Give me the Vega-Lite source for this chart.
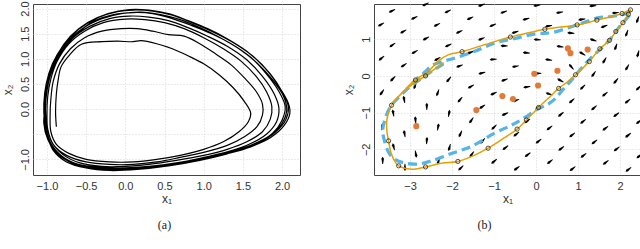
{
  "$schema": "https://vega.github.io/schema/vega-lite/v6.json",
  "padding": {"left": 0, "top": 0, "right": 0, "bottom": 0},
  "bounds": "flush",
  "spacing": 74,
  "config": {
    "font": "Liberation Sans",
    "view": {"stroke": "#444444", "strokeWidth": 1},
    "axis": {"grid": true, "gridColor": "#cccccc", "gridDash": [1, 2], "gridWidth": 0.8, "domain": false, "ticks": false,
      "labelFont": "Liberation Sans", "labelFontSize": 11, "labelColor": "#333333", "labelPadding": 5,
      "titleFont": "Liberation Sans", "titleFontSize": 12, "titleFontWeight": "normal", "titleColor": "#333333", "titlePadding": 2},
    "title": {"font": "Liberation Serif", "fontSize": 12, "fontWeight": "normal", "color": "#222222", "orient": "bottom", "anchor": "middle", "offset": 16}
  },
  "datasets": {
    "traj": [
      {"x1":-0.88,"x2":-0.35},{"x1":-0.89,"x2":-0.05},{"x1":-0.88,"x2":0.3},{"x1":-0.86,"x2":0.55},{"x1":-0.82,"x2":0.84},{"x1":-0.71,"x2":1.08},{"x1":-0.56,"x2":1.29},{"x1":-0.3,"x2":1.34},{"x1":-0.1,"x2":1.35},{"x1":0.1,"x2":1.34},{"x1":0.2,"x2":1.36},{"x1":0.4,"x2":1.3},{"x1":0.6,"x2":1.2},{"x1":0.8,"x2":1.06},{"x1":1.0,"x2":0.9},{"x1":1.2,"x2":0.68},{"x1":1.38,"x2":0.42},{"x1":1.52,"x2":0.15},{"x1":1.6,"x2":-0.08},{"x1":1.57,"x2":-0.25},{"x1":1.45,"x2":-0.45},{"x1":1.25,"x2":-0.65},{"x1":1.0,"x2":-0.8},{"x1":0.7,"x2":-0.92},{"x1":0.4,"x2":-1.0},{"x1":0.1,"x2":-1.05},{"x1":-0.2,"x2":-1.05},{"x1":-0.5,"x2":-1.0},{"x1":-0.72,"x2":-0.88},{"x1":-0.88,"x2":-0.7},{"x1":-0.95,"x2":-0.45},
      {"x1":-0.96,"x2":-0.15},{"x1":-0.95,"x2":0.2},{"x1":-0.92,"x2":0.55},{"x1":-0.84,"x2":0.9},{"x1":-0.7,"x2":1.2},{"x1":-0.52,"x2":1.42},{"x1":-0.3,"x2":1.55},{"x1":-0.05,"x2":1.6},{"x1":0.15,"x2":1.6},{"x1":0.35,"x2":1.55},{"x1":0.55,"x2":1.48},{"x1":0.75,"x2":1.45},{"x1":0.95,"x2":1.3},{"x1":1.15,"x2":1.1},{"x1":1.35,"x2":0.88},{"x1":1.52,"x2":0.62},{"x1":1.67,"x2":0.35},{"x1":1.75,"x2":0.1},{"x1":1.75,"x2":-0.12},{"x1":1.68,"x2":-0.35},{"x1":1.52,"x2":-0.55},{"x1":1.3,"x2":-0.72},{"x1":1.0,"x2":-0.86},{"x1":0.7,"x2":-0.96},{"x1":0.4,"x2":-1.05},{"x1":0.1,"x2":-1.1},{"x1":-0.2,"x2":-1.1},{"x1":-0.5,"x2":-1.05},{"x1":-0.75,"x2":-0.92},{"x1":-0.92,"x2":-0.7},{"x1":-0.99,"x2":-0.4},
      {"x1":-1.0,"x2":-0.1},{"x1":-0.99,"x2":0.25},{"x1":-0.95,"x2":0.6},{"x1":-0.87,"x2":0.95},{"x1":-0.72,"x2":1.3},{"x1":-0.52,"x2":1.55},{"x1":-0.28,"x2":1.72},{"x1":0.0,"x2":1.79},{"x1":0.25,"x2":1.78},{"x1":0.5,"x2":1.72},{"x1":0.75,"x2":1.6},{"x1":1.0,"x2":1.42},{"x1":1.25,"x2":1.2},{"x1":1.48,"x2":0.95},{"x1":1.67,"x2":0.65},{"x1":1.8,"x2":0.35},{"x1":1.87,"x2":0.05},{"x1":1.85,"x2":-0.2},{"x1":1.75,"x2":-0.45},{"x1":1.55,"x2":-0.65},{"x1":1.3,"x2":-0.8},{"x1":1.0,"x2":-0.92},{"x1":0.65,"x2":-1.02},{"x1":0.3,"x2":-1.1},{"x1":0.0,"x2":-1.14},{"x1":-0.3,"x2":-1.14},{"x1":-0.58,"x2":-1.07},{"x1":-0.8,"x2":-0.9},{"x1":-0.94,"x2":-0.65},{"x1":-1.0,"x2":-0.35},
      {"x1":-1.02,"x2":0.0},{"x1":-1.0,"x2":0.35},{"x1":-0.95,"x2":0.7},{"x1":-0.85,"x2":1.05},{"x1":-0.68,"x2":1.4},{"x1":-0.45,"x2":1.65},{"x1":-0.2,"x2":1.8},{"x1":0.05,"x2":1.85},{"x1":0.3,"x2":1.83},{"x1":0.55,"x2":1.76},{"x1":0.8,"x2":1.62},{"x1":1.05,"x2":1.45},{"x1":1.3,"x2":1.25},{"x1":1.55,"x2":0.98},{"x1":1.75,"x2":0.65},{"x1":1.9,"x2":0.3},{"x1":1.96,"x2":0.02},{"x1":1.93,"x2":-0.25},{"x1":1.8,"x2":-0.5},{"x1":1.58,"x2":-0.7},{"x1":1.3,"x2":-0.85},{"x1":1.0,"x2":-0.96},{"x1":0.65,"x2":-1.07},{"x1":0.3,"x2":-1.14},{"x1":0.0,"x2":-1.17},{"x1":-0.3,"x2":-1.16},{"x1":-0.6,"x2":-1.1},{"x1":-0.82,"x2":-0.92},{"x1":-0.96,"x2":-0.65},{"x1":-1.02,"x2":-0.3},
      {"x1":-1.03,"x2":0.05},{"x1":-1.0,"x2":0.45},{"x1":-0.93,"x2":0.85},{"x1":-0.8,"x2":1.2},{"x1":-0.62,"x2":1.5},{"x1":-0.4,"x2":1.75},{"x1":-0.15,"x2":1.88},{"x1":0.1,"x2":1.92},{"x1":0.35,"x2":1.9},{"x1":0.6,"x2":1.8},{"x1":0.85,"x2":1.66},{"x1":1.1,"x2":1.5},{"x1":1.35,"x2":1.3},{"x1":1.6,"x2":1.03},{"x1":1.8,"x2":0.7},{"x1":1.96,"x2":0.35},{"x1":2.04,"x2":0.05},{"x1":2.0,"x2":-0.22},{"x1":1.88,"x2":-0.48},{"x1":1.65,"x2":-0.7},{"x1":1.35,"x2":-0.86},{"x1":1.0,"x2":-0.98},{"x1":0.6,"x2":-1.1},{"x1":0.2,"x2":-1.17},{"x1":-0.15,"x2":-1.19},{"x1":-0.45,"x2":-1.15},{"x1":-0.7,"x2":-1.05},{"x1":-0.88,"x2":-0.85},{"x1":-0.99,"x2":-0.55},{"x1":-1.03,"x2":-0.25},
      {"x1":-1.04,"x2":0.1},{"x1":-1.01,"x2":0.5},{"x1":-0.93,"x2":0.9},{"x1":-0.8,"x2":1.25},{"x1":-0.6,"x2":1.58},{"x1":-0.35,"x2":1.82},{"x1":-0.1,"x2":1.94},{"x1":0.1,"x2":1.97},{"x1":0.35,"x2":1.95},{"x1":0.6,"x2":1.87},{"x1":0.85,"x2":1.72},{"x1":1.1,"x2":1.55},{"x1":1.38,"x2":1.32},{"x1":1.63,"x2":1.05},{"x1":1.85,"x2":0.7},{"x1":2.0,"x2":0.35},{"x1":2.08,"x2":0.05},{"x1":2.05,"x2":-0.2},{"x1":1.92,"x2":-0.45},{"x1":1.7,"x2":-0.67},{"x1":1.4,"x2":-0.84},{"x1":1.05,"x2":-0.97},{"x1":0.65,"x2":-1.1},{"x1":0.25,"x2":-1.17},{"x1":-0.1,"x2":-1.2},{"x1":-0.4,"x2":-1.18},{"x1":-0.67,"x2":-1.08},{"x1":-0.87,"x2":-0.88},{"x1":-0.99,"x2":-0.6},{"x1":-1.04,"x2":-0.28},
      {"x1":-1.02,"x2":0.08},{"x1":-0.99,"x2":0.5},{"x1":-0.9,"x2":0.92},{"x1":-0.76,"x2":1.3},{"x1":-0.55,"x2":1.6},{"x1":-0.3,"x2":1.8},{"x1":-0.05,"x2":1.9},{"x1":0.2,"x2":1.93},{"x1":0.45,"x2":1.88},{"x1":0.7,"x2":1.78},{"x1":0.95,"x2":1.62},{"x1":1.2,"x2":1.43},{"x1":1.45,"x2":1.2},{"x1":1.68,"x2":0.92},{"x1":1.88,"x2":0.58},{"x1":2.02,"x2":0.25},{"x1":2.06,"x2":-0.02},{"x1":2.0,"x2":-0.28},{"x1":1.85,"x2":-0.52},{"x1":1.6,"x2":-0.72},{"x1":1.3,"x2":-0.87},{"x1":0.95,"x2":-1.0},{"x1":0.55,"x2":-1.12},{"x1":0.15,"x2":-1.18},{"x1":-0.2,"x2":-1.2},{"x1":-0.5,"x2":-1.15},{"x1":-0.74,"x2":-1.02},{"x1":-0.91,"x2":-0.8},{"x1":-1.0,"x2":-0.5},{"x1":-1.03,"x2":-0.15},
      {"x1":-1.01,"x2":0.25},{"x1":-0.96,"x2":0.7},{"x1":-0.86,"x2":1.1},{"x1":-0.7,"x2":1.45},{"x1":-0.48,"x2":1.72},{"x1":-0.22,"x2":1.9},{"x1":0.05,"x2":1.98},{"x1":0.3,"x2":1.97},{"x1":0.55,"x2":1.9},{"x1":0.8,"x2":1.76},{"x1":1.05,"x2":1.6},{"x1":1.3,"x2":1.4},{"x1":1.55,"x2":1.15},{"x1":1.78,"x2":0.82},{"x1":1.96,"x2":0.45},{"x1":2.08,"x2":0.12},{"x1":2.1,"x2":-0.08},{"x1":2.03,"x2":-0.32},{"x1":1.85,"x2":-0.57},{"x1":1.6,"x2":-0.75},{"x1":1.3,"x2":-0.89},{"x1":0.95,"x2":-1.02},{"x1":0.55,"x2":-1.13},{"x1":0.15,"x2":-1.2},{"x1":-0.2,"x2":-1.22},{"x1":-0.5,"x2":-1.17},{"x1":-0.75,"x2":-1.05},{"x1":-0.92,"x2":-0.82},{"x1":-1.0,"x2":-0.5}
    ],
    "field": [
      {"x1":1.35,"x2":1.91,"dir":265},{"x1":1.89,"x2":1.72,"dir":265},{"x1":2.42,"x2":1.53,"dir":200},
      {"x1":0.02,"x2":1.92,"dir":262},{"x1":0.56,"x2":1.73,"dir":262},{"x1":1.09,"x2":1.54,"dir":262},{"x1":1.62,"x2":1.35,"dir":250},{"x1":2.16,"x2":1.16,"dir":200},
      {"x1":-1.3,"x2":1.93,"dir":250},{"x1":-0.77,"x2":1.74,"dir":250},{"x1":-0.24,"x2":1.55,"dir":255},{"x1":0.3,"x2":1.36,"dir":260},{"x1":0.83,"x2":1.17,"dir":275},{"x1":1.36,"x2":0.98,"dir":290},{"x1":1.9,"x2":0.79,"dir":200},{"x1":2.43,"x2":0.6,"dir":195},
      {"x1":-2.63,"x2":1.95,"dir":243},{"x1":-2.1,"x2":1.76,"dir":243},{"x1":-1.57,"x2":1.57,"dir":245},{"x1":-1.03,"x2":1.38,"dir":248},{"x1":-0.5,"x2":1.19,"dir":252},{"x1":0.03,"x2":0.99,"dir":275},{"x1":0.57,"x2":0.8,"dir":280},{"x1":1.1,"x2":0.61,"dir":300},{"x1":1.63,"x2":0.42,"dir":210},{"x1":2.17,"x2":0.23,"dir":210},
      {"x1":-3.43,"x2":1.77,"dir":243},{"x1":-2.9,"x2":1.58,"dir":243},{"x1":-2.36,"x2":1.39,"dir":243},{"x1":-1.83,"x2":1.2,"dir":245},{"x1":-1.3,"x2":1.01,"dir":248},{"x1":-0.76,"x2":0.82,"dir":270},{"x1":-0.23,"x2":0.63,"dir":275},{"x1":0.3,"x2":0.44,"dir":280},{"x1":0.84,"x2":0.25,"dir":320},{"x1":1.37,"x2":0.05,"dir":215},{"x1":1.9,"x2":-0.14,"dir":220},{"x1":2.44,"x2":-0.33,"dir":225},
      {"x1":-3.69,"x2":1.4,"dir":240},{"x1":-3.16,"x2":1.21,"dir":240},{"x1":-2.62,"x2":1.02,"dir":242},{"x1":-2.09,"x2":0.83,"dir":245},{"x1":-1.56,"x2":0.64,"dir":250},{"x1":-1.02,"x2":0.45,"dir":265},{"x1":-0.49,"x2":0.26,"dir":260},{"x1":0.04,"x2":0.07,"dir":270},{"x1":0.58,"x2":-0.12,"dir":300},{"x1":1.11,"x2":-0.31,"dir":225},{"x1":1.64,"x2":-0.5,"dir":230},{"x1":2.18,"x2":-0.69,"dir":230},
      {"x1":-3.42,"x2":0.84,"dir":235},{"x1":-2.89,"x2":0.65,"dir":240},{"x1":-2.35,"x2":0.46,"dir":240},{"x1":-1.82,"x2":0.27,"dir":250},{"x1":-1.29,"x2":0.08,"dir":255},{"x1":-0.75,"x2":-0.11,"dir":250},{"x1":-0.22,"x2":-0.3,"dir":260},{"x1":0.31,"x2":-0.49,"dir":290},{"x1":0.85,"x2":-0.68,"dir":228},{"x1":1.38,"x2":-0.87,"dir":230},{"x1":1.91,"x2":-1.06,"dir":232},{"x1":2.45,"x2":-1.25,"dir":232},
      {"x1":-3.68,"x2":0.48,"dir":230},{"x1":-3.15,"x2":0.29,"dir":235},{"x1":-2.61,"x2":0.1,"dir":240},{"x1":-2.08,"x2":-0.1,"dir":220},{"x1":-1.55,"x2":-0.29,"dir":240},{"x1":-1.01,"x2":-0.48,"dir":245},{"x1":-0.48,"x2":-0.67,"dir":250},{"x1":0.05,"x2":-0.86,"dir":230},{"x1":0.59,"x2":-1.05,"dir":230},{"x1":1.12,"x2":-1.24,"dir":232},{"x1":1.65,"x2":-1.43,"dir":232},{"x1":2.19,"x2":-1.62,"dir":232},
      {"x1":-3.41,"x2":-0.08,"dir":225},{"x1":-2.88,"x2":-0.27,"dir":200},{"x1":-2.34,"x2":-0.46,"dir":200},{"x1":-1.81,"x2":-0.65,"dir":220},{"x1":-1.28,"x2":-0.84,"dir":235},{"x1":-0.74,"x2":-1.04,"dir":245},{"x1":-0.21,"x2":-1.23,"dir":235},{"x1":0.32,"x2":-1.42,"dir":232},{"x1":0.86,"x2":-1.61,"dir":232},{"x1":1.39,"x2":-1.8,"dir":232},{"x1":1.92,"x2":-1.99,"dir":232},{"x1":2.46,"x2":-2.18,"dir":232},
      {"x1":-3.67,"x2":-0.45,"dir":215},{"x1":-3.14,"x2":-0.64,"dir":350},{"x1":-2.6,"x2":-0.83,"dir":0},{"x1":-2.07,"x2":-1.02,"dir":10},{"x1":-1.54,"x2":-1.21,"dir":215},{"x1":-1.0,"x2":-1.4,"dir":225},{"x1":-0.47,"x2":-1.59,"dir":232},{"x1":0.06,"x2":-1.78,"dir":232},{"x1":0.6,"x2":-1.98,"dir":232},{"x1":1.13,"x2":-2.17,"dir":232},{"x1":1.66,"x2":-2.36,"dir":232},{"x1":2.2,"x2":-2.55,"dir":232},
      {"x1":-3.4,"x2":-1.01,"dir":350},{"x1":-2.87,"x2":-1.2,"dir":355},{"x1":-2.33,"x2":-1.39,"dir":10},{"x1":-1.8,"x2":-1.58,"dir":205},{"x1":-1.27,"x2":-1.77,"dir":220},{"x1":-0.73,"x2":-1.96,"dir":232},{"x1":-0.2,"x2":-2.15,"dir":232},{"x1":0.33,"x2":-2.34,"dir":232},{"x1":0.87,"x2":-2.53,"dir":232},
      {"x1":-3.66,"x2":-1.38,"dir":10},{"x1":-3.13,"x2":-1.57,"dir":350},{"x1":-2.6,"x2":-1.76,"dir":5},{"x1":-2.06,"x2":-1.95,"dir":195},{"x1":-1.53,"x2":-2.14,"dir":215},{"x1":-1.0,"x2":-2.33,"dir":230},{"x1":-0.46,"x2":-2.52,"dir":232},
      {"x1":-3.39,"x2":-1.93,"dir":345},{"x1":-2.86,"x2":-2.13,"dir":170},{"x1":-2.32,"x2":-2.32,"dir":200},{"x1":-1.79,"x2":-2.51,"dir":225},
      {"x1":-3.65,"x2":-2.3,"dir":0},{"x1":-3.12,"x2":-2.49,"dir":180}
    ],
    "blue": [
      {"x1":-2.2,"x2":0.33},{"x1":-2.45,"x2":0.15},{"x1":-2.7,"x2":-0.05},{"x1":-2.95,"x2":-0.25},{"x1":-3.2,"x2":-0.5},{"x1":-3.47,"x2":-0.85},{"x1":-3.6,"x2":-1.2},{"x1":-3.65,"x2":-1.5},{"x1":-3.6,"x2":-1.8},{"x1":-3.5,"x2":-2.1},{"x1":-3.35,"x2":-2.28},{"x1":-3.1,"x2":-2.38},{"x1":-2.8,"x2":-2.4},{"x1":-2.5,"x2":-2.32},{"x1":-2.05,"x2":-2.13},{"x1":-1.52,"x2":-1.91},{"x1":-0.97,"x2":-1.55},{"x1":-0.6,"x2":-1.35},{"x1":-0.33,"x2":-1.18},{"x1":0.05,"x2":-0.9},{"x1":0.3,"x2":-0.76},{"x1":0.46,"x2":-0.62},{"x1":0.62,"x2":-0.4},{"x1":0.8,"x2":-0.18},{"x1":1.0,"x2":0.1},{"x1":1.3,"x2":0.48},{"x1":1.73,"x2":0.95},{"x1":2.0,"x2":1.36},{"x1":2.2,"x2":1.62},{"x1":2.27,"x2":1.75},{"x1":2.1,"x2":1.68},{"x1":1.8,"x2":1.62},{"x1":1.49,"x2":1.59},{"x1":1.02,"x2":1.41},{"x1":0.38,"x2":1.18},{"x1":0.0,"x2":1.15},{"x1":-0.5,"x2":1.02},{"x1":-0.97,"x2":0.9},{"x1":-1.44,"x2":0.68},{"x1":-1.9,"x2":0.5},{"x1":-2.2,"x2":0.4},{"x1":-2.45,"x2":0.3},{"x1":-2.7,"x2":0.05},{"x1":-2.95,"x2":-0.2}
    ],
    "orange": [
      {"x1":-2.2,"x2":0.36,"obs":0},{"x1":-2.42,"x2":0.18,"obs":0},{"x1":-2.63,"x2":0.0,"obs":1},{"x1":-2.88,"x2":-0.18,"obs":0},{"x1":-3.15,"x2":-0.42,"obs":0},{"x1":-3.44,"x2":-0.8,"obs":1},{"x1":-3.55,"x2":-1.2,"obs":0},{"x1":-3.55,"x2":-1.5,"obs":0},{"x1":-3.51,"x2":-1.77,"obs":1},{"x1":-3.45,"x2":-2.1,"obs":0},{"x1":-3.35,"x2":-2.35,"obs":0},{"x1":-3.27,"x2":-2.45,"obs":1},{"x1":-3.1,"x2":-2.52,"obs":0},{"x1":-2.9,"x2":-2.54,"obs":0},{"x1":-2.63,"x2":-2.48,"obs":1},{"x1":-2.25,"x2":-2.38,"obs":0},{"x1":-1.86,"x2":-2.33,"obs":1},{"x1":-1.5,"x2":-2.18,"obs":0},{"x1":-1.14,"x2":-1.97,"obs":1},{"x1":-0.8,"x2":-1.72,"obs":0},{"x1":-0.45,"x2":-1.45,"obs":1},{"x1":-0.23,"x2":-1.2,"obs":1},{"x1":0.06,"x2":-0.86,"obs":1},{"x1":0.3,"x2":-0.6,"obs":0},{"x1":0.54,"x2":-0.34,"obs":1},{"x1":0.75,"x2":-0.16,"obs":0},{"x1":0.94,"x2":0.03,"obs":1},{"x1":1.1,"x2":0.2,"obs":0},{"x1":1.27,"x2":0.39,"obs":1},{"x1":1.4,"x2":0.58,"obs":0},{"x1":1.52,"x2":0.74,"obs":1},{"x1":1.75,"x2":0.97,"obs":1},{"x1":1.9,"x2":1.21,"obs":1},{"x1":2.07,"x2":1.45,"obs":1},{"x1":2.2,"x2":1.68,"obs":1},{"x1":2.25,"x2":1.8,"obs":1},{"x1":2.05,"x2":1.7,"obs":1},{"x1":1.45,"x2":1.52,"obs":1},{"x1":0.98,"x2":1.39,"obs":1},{"x1":0.6,"x2":1.33,"obs":0},{"x1":0.21,"x2":1.27,"obs":1},{"x1":-0.2,"x2":1.17,"obs":0},{"x1":-0.61,"x2":1.06,"obs":1},{"x1":-1.2,"x2":0.86,"obs":0},{"x1":-1.76,"x2":0.66,"obs":1},{"x1":-2.08,"x2":0.58,"obs":0},{"x1":-2.32,"x2":0.41,"obs":0},{"x1":-2.55,"x2":0.14,"obs":0},{"x1":-2.87,"x2":-0.11,"obs":1},{"x1":-3.1,"x2":-0.35,"obs":0}
    ],
    "dots": [
      {"x1":0.76,"x2":0.75},{"x1":0.82,"x2":0.62},{"x1":1.23,"x2":0.72},{"x1":-0.04,"x2":0.06},{"x1":0.51,"x2":0.14},{"x1":0.05,"x2":-0.26},{"x1":-0.8,"x2":-0.55},{"x1":-0.55,"x2":-0.63},{"x1":-1.42,"x2":-0.93},{"x1":-2.85,"x2":-1.37}
    ]
  },
  "hconcat": [
    {
      "width": 267,
      "height": 171,
      "title": {"text": "(a)", "orient": "bottom", "anchor": "middle", "offset": 16, "dx": -2},
      "data": {"name": "traj"},
      "mark": {"type": "line", "color": "black", "strokeWidth": 1.2, "interpolate": "catmull-rom"},
      "encoding": {
        "x": {"field": "x1", "type": "quantitative", "scale": {"domain": [-1.178, 2.229], "nice": false, "zero": false},
          "axis": {"values": [-1, -0.5, 0, 0.5, 1, 1.5, 2], "format": ".1f", "title": "x₁"}},
        "y": {"field": "x2", "type": "quantitative", "scale": {"domain": [-1.31, 2.09], "nice": false, "zero": false},
          "axis": {"values": [-1, -0.5, 0, 0.5, 1, 1.5, 2], "labelExpr": "datum.value == -0.5 ? '' : format(datum.value, '.1f')", "title": "x₂",
            "labelAngle": -90, "labelAlign": "center", "labelBaseline": "bottom", "labelPadding": 3, "titlePadding": 5}},
        "order": {"value": null}
      }
    },
    {
      "width": 267,
      "height": 171,
      "title": {"text": "(b)", "orient": "bottom", "anchor": "middle", "offset": 16, "dx": -23},
      "encoding": {
        "x": {"field": "x1", "type": "quantitative", "scale": {"domain": [-3.857, 2.5], "nice": false, "zero": false},
          "axis": {"values": [-3, -2, -1, 0, 1, 2], "format": "d", "title": "x₁"}},
        "y": {"field": "x2", "type": "quantitative", "scale": {"domain": [-2.7, 1.96], "nice": false, "zero": false},
          "axis": {"values": [-2, -1, 0, 1], "format": "d", "title": "x₂",
            "labelAngle": -90, "labelAlign": "center", "labelBaseline": "bottom", "labelPadding": 3, "titlePadding": 5}}
      },
      "layer": [
        {
          "data": {"name": "field"},
          "mark": {"type": "point", "shape": "M0,-1L0.36,-0.45L0.1,1L-0.1,1L-0.36,-0.45Z", "filled": true, "color": "black", "opacity": 1, "size": 52},
          "encoding": {"angle": {"field": "dir", "type": "quantitative", "scale": null}}
        },
        {
          "data": {"name": "blue"},
          "mark": {"type": "line", "color": "#56B4E9", "strokeWidth": 3.2, "strokeDash": [9, 5], "interpolate": "catmull-rom"},
          "encoding": {"order": {"value": null}}
        },
        {
          "data": {"name": "orange"},
          "mark": {"type": "line", "color": "#E69F00", "strokeWidth": 1.5, "interpolate": "catmull-rom"},
          "encoding": {"order": {"value": null}}
        },
        {
          "data": {"name": "orange"},
          "transform": [{"filter": "datum.obs == 1"}],
          "mark": {"type": "point", "shape": "circle", "filled": false, "color": "#222222", "strokeWidth": 0.8, "size": 18, "opacity": 1}
        },
        {
          "data": {"name": "dots"},
          "mark": {"type": "circle", "color": "#E07B39", "size": 38, "opacity": 1}
        }
      ]
    }
  ]
}
